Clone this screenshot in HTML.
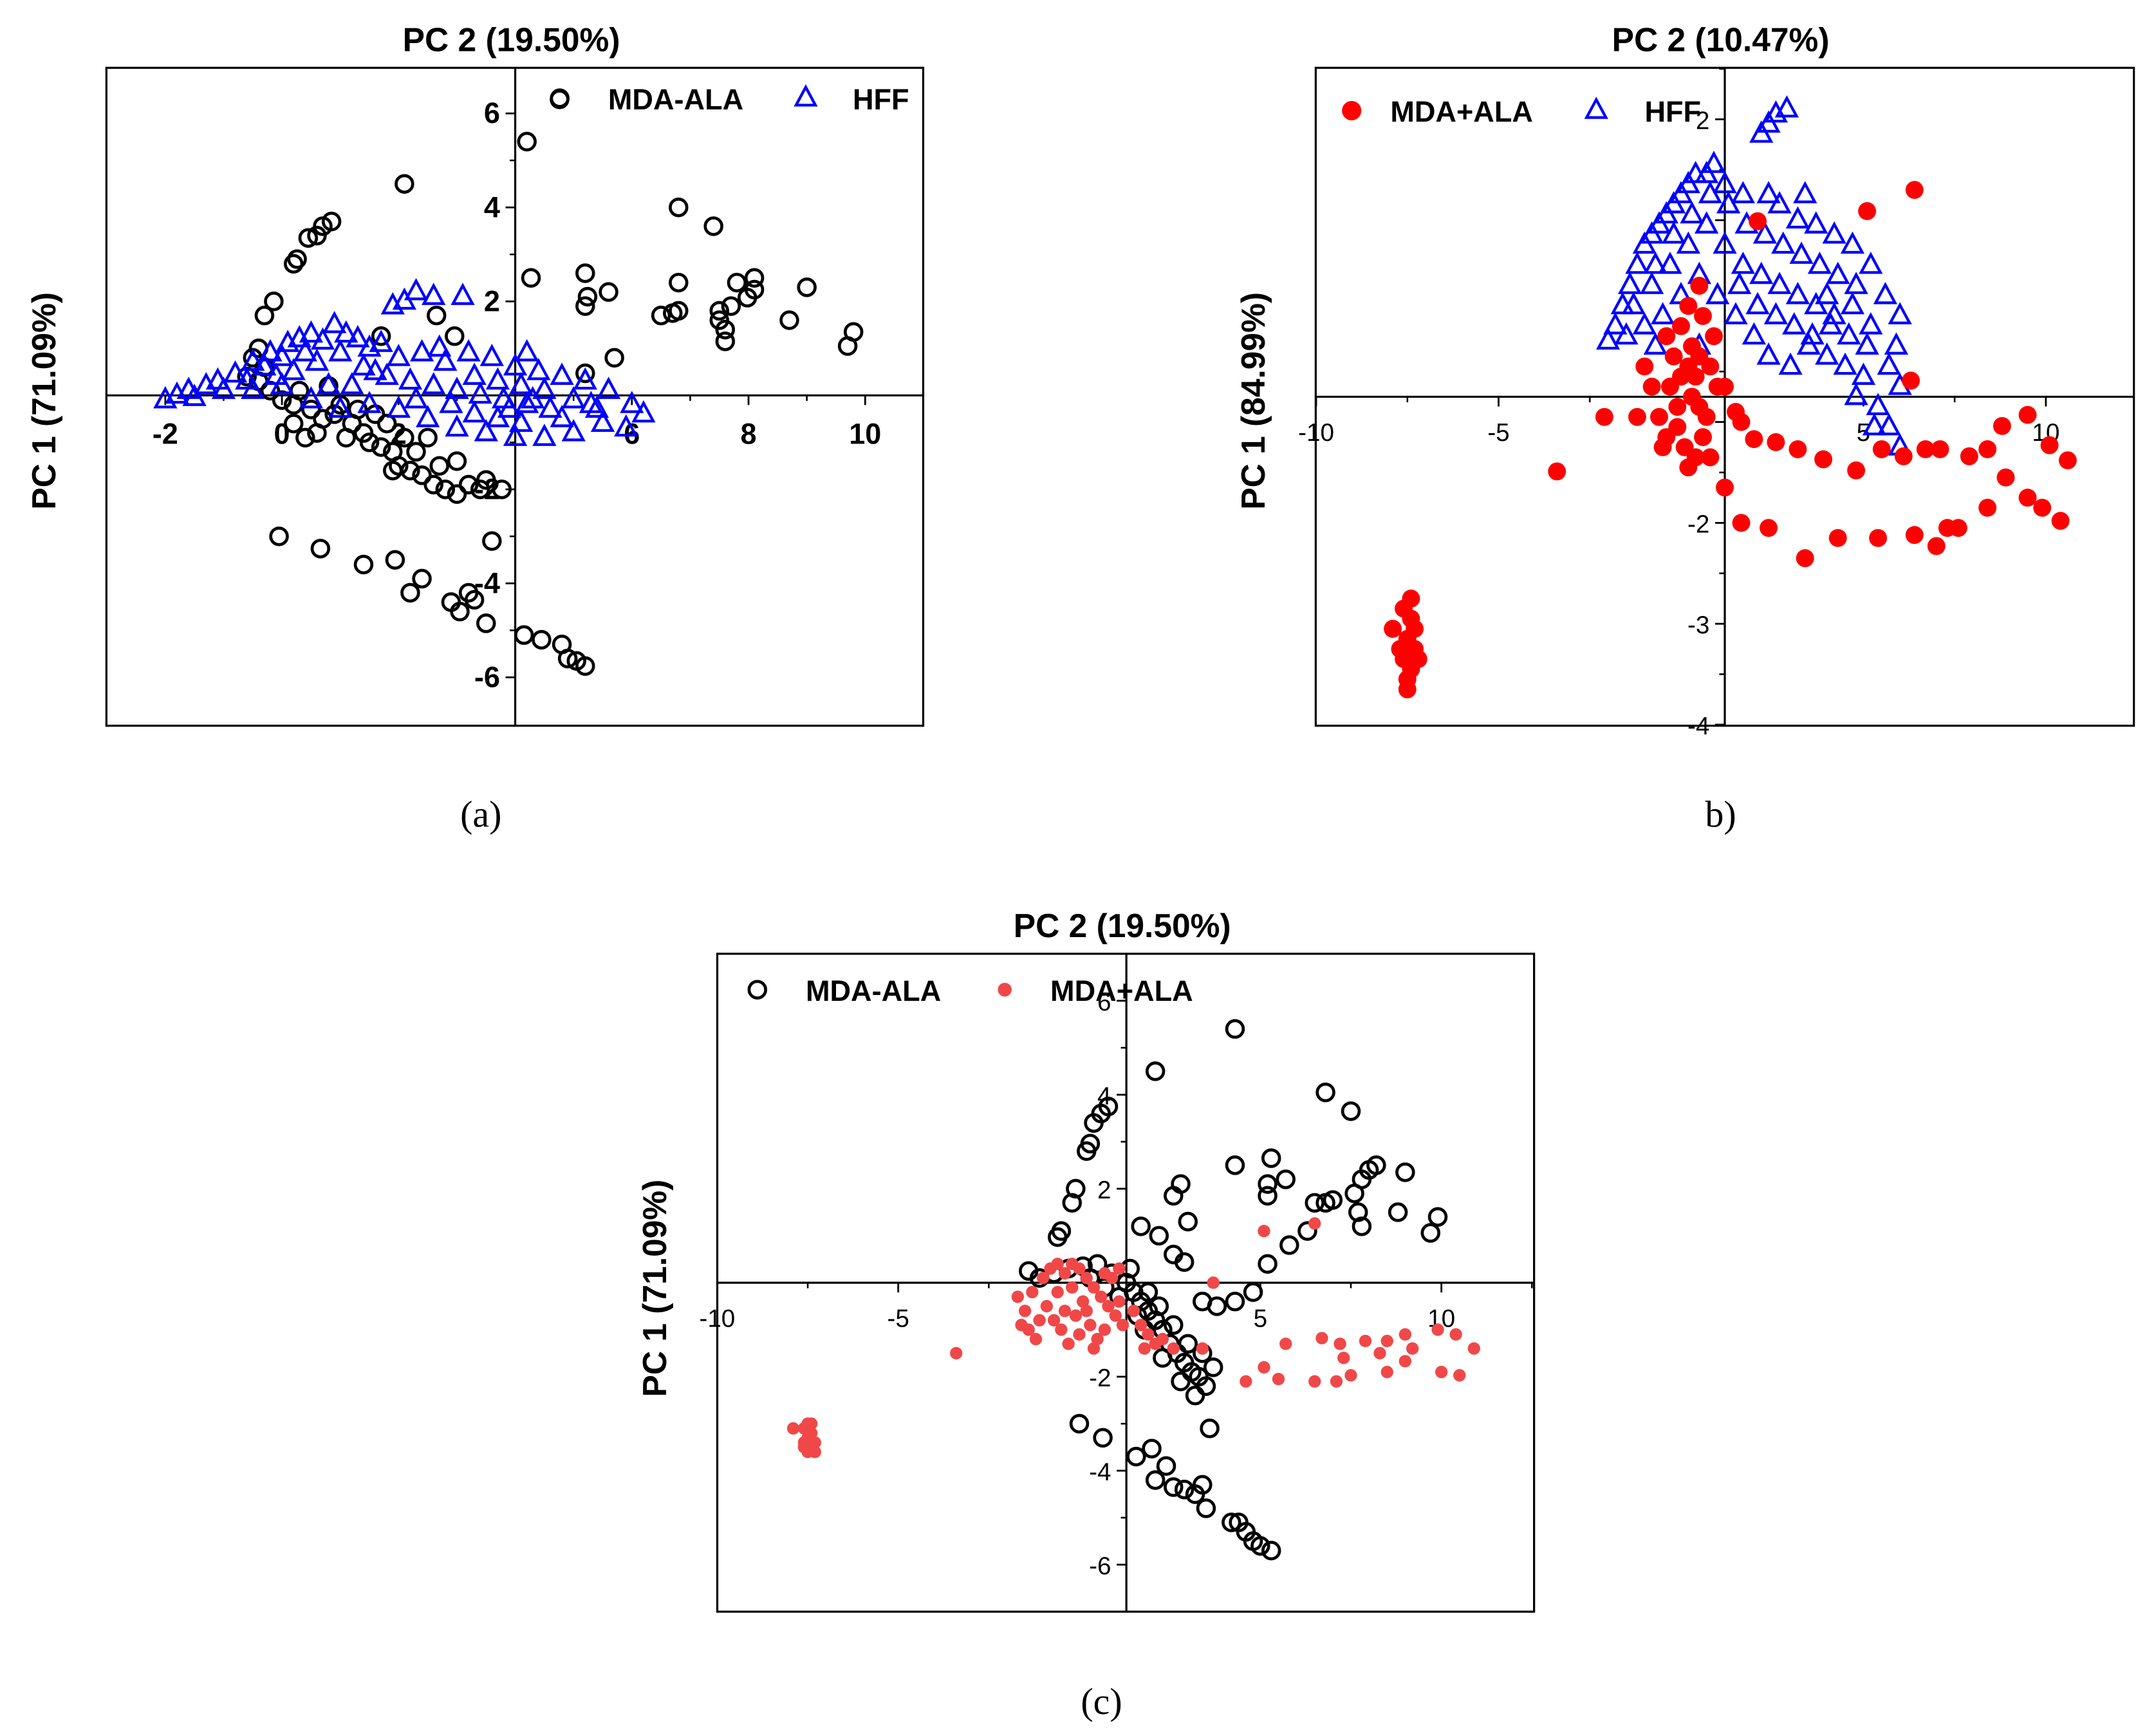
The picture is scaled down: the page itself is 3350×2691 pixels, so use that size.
<!DOCTYPE html>
<html><head><meta charset="utf-8">
<style>
html,body{margin:0;padding:0;background:#fff}
svg{display:block}
text{font-family:"Liberation Sans",sans-serif}
</style></head>
<body>
<svg id="fig" width="3350" height="2691" viewBox="0 0 1560 1253" xmlns="http://www.w3.org/2000/svg">
<g id="pa">
<text x="370" y="37" text-anchor="middle" font-size="24" font-weight="bold">PC 2 (19.50%)</text>
<text transform="translate(40,290) rotate(-90)" text-anchor="middle" font-size="24" font-weight="bold">PC 1 (71.09%)</text>
<rect x="77" y="49" width="591" height="476" fill="none" stroke="#000" stroke-width="1.5"/>
<circle cx="405" cy="71" r="6" fill="none" stroke="#000" stroke-width="2.2"/>
<text x="440" y="79" font-size="21" font-weight="bold">MDA-ALA</text>
<path d="M583,63 L590,76 L576,76 Z" fill="none" stroke="#00f" stroke-width="2"/>
<text x="617" y="79" font-size="21" font-weight="bold">HFF</text>
<text x="348" y="598" text-anchor="middle" font-size="27" style="font-family:'Liberation Serif',serif">(a)</text>
</g>
<g id="pb">
<text x="1245" y="37" text-anchor="middle" font-size="24" font-weight="bold">PC 2 (10.47%)</text>
<text transform="translate(915,290) rotate(-90)" text-anchor="middle" font-size="24" font-weight="bold">PC 1 (84.99%)</text>
<rect x="952" y="49" width="592" height="476" fill="none" stroke="#000" stroke-width="1.5"/>
<circle cx="978" cy="80" r="7" fill="#f00"/>
<text x="1006" y="88" font-size="21" font-weight="bold">MDA+ALA</text>
<path d="M1155,72 L1162,85 L1148,85 Z" fill="none" stroke="#00f" stroke-width="2"/>
<text x="1190" y="88" font-size="21" font-weight="bold">HFF</text>
<text x="1245" y="598" text-anchor="middle" font-size="27" style="font-family:'Liberation Serif',serif">b)</text>
</g>
<g id="pc">
<text x="812" y="678" text-anchor="middle" font-size="24" font-weight="bold">PC 2 (19.50%)</text>
<text transform="translate(482,932) rotate(-90)" text-anchor="middle" font-size="24" font-weight="bold">PC 1 (71.09%)</text>
<rect x="519" y="690" width="591" height="476" fill="none" stroke="#000" stroke-width="1.5"/>
<circle cx="548" cy="716" r="6" fill="none" stroke="#000" stroke-width="2.2"/>
<text x="583" y="724" font-size="21" font-weight="bold">MDA-ALA</text>
<circle cx="727" cy="716" r="5" fill="#f04848"/>
<text x="760" y="724" font-size="21" font-weight="bold">MDA+ALA</text>
<text x="797" y="1240" text-anchor="middle" font-size="27" style="font-family:'Liberation Serif',serif">(c)</text>
</g>
</svg>
<script>
const NS="http://www.w3.org/2000/svg";
// Panel a data
const aTicksX=[-2,0,2,4,6,8,10];
const aTicksXLabels=["-2","0","2","","6","8","10"];
const aTicksY=[-6,-4,-2,2,4,6];
const aTicksYLabels=["-6","-4","-2","2","4","6"];
const aMdaAla=[[4.76,6.3],[4.2,5.4],[2.1,4.5],[0.85,3.7],[0.7,3.6],[0.6,3.4],[0.45,3.35],[0.26,2.9],[0.2,2.8],[-0.14,2.0],[-0.3,1.7],[4.27,2.5],[5.2,2.6],[5.24,2.1],[5.2,1.9],[5.6,2.2],[6.8,4.0],[7.4,3.6],[6.8,2.4],[6.5,1.7],[6.7,1.75],[6.8,1.8],[7.5,1.8],[7.6,1.4],[7.6,1.15],[7.5,1.6],[7.8,2.4],[8.1,2.5],[8.1,2.25],[7.98,2.08],[7.7,1.9],[8.7,1.6],[9.0,2.3],[9.7,1.05],[9.8,1.35],[5.7,0.8],[5.2,0.47],[2.96,1.26],[2.65,1.7],[1.7,1.26],[-0.05,-3.0],[0.66,-3.26],[1.4,-3.6],[1.94,-3.5],[2.2,-4.2],[2.4,-3.9],[2.9,-4.4],[3.05,-4.6],[3.2,-4.2],[3.3,-4.35],[3.5,-4.85],[3.6,-3.1],[3.77,-2.0],[4.15,-5.1],[4.45,-5.2],[4.8,-5.3],[4.9,-5.6],[5.05,-5.65],[5.2,-5.76],
[-0.6,0.4],[-0.4,0.3],[-0.2,0.1],[0,-0.1],[0.2,-0.2],[0.3,0.1],[0.5,-0.3],[0.7,-0.5],[0.9,-0.4],[1.0,-0.2],[1.2,-0.6],[1.4,-0.8],[1.5,-1.0],[1.7,-1.1],[1.9,-1.2],[2.0,-1.5],[2.2,-1.6],[2.4,-1.7],[2.6,-1.9],[2.8,-2.0],[3.0,-2.1],[3.2,-1.9],[3.4,-2.0],[3.5,-1.8],[1.1,-0.9],[0.6,-0.8],[0.2,-0.6],[-0.3,0.6],[-0.5,0.8],[-0.4,1.0],[1.3,-0.3],[1.8,-0.6],[2.3,-1.2],[2.1,-0.9],[2.7,-1.5],[3.0,-1.4],[0.8,0.2],[1.6,-0.4],[2.5,-0.9],[0.4,-0.9],[1.9,-1.6]];
const aHff=[[-2,-0.1],[-1.8,0],[-1.6,0.1],[-1.5,-0.05],[-1.3,0.2],[-1.1,0.3],[-1,0.1],[-0.8,0.45],[-0.6,0.3],[-0.5,0.7],[-0.3,0.6],[-0.2,0.9],[0,0.8],[0.1,1.1],[0.3,1.2],[0.5,1.3],[0.7,1.15],[0.9,1.5],[1.1,1.3],[1.3,1.2],[1.5,1.0],[1.7,1.1],[1.9,1.9],[2.1,2.0],[2.3,2.2],[2.6,2.1],[3.1,2.1],[2.0,0.8],[2.4,0.9],[2.8,0.7],[3.2,0.9],[3.6,0.8],[4.0,0.6],[4.4,0.5],[4.8,0.4],[5.2,0.3],[5.6,0.1],[6.0,-0.2],[6.2,-0.4],[5.9,-0.7],[5.5,-0.6],[5.0,-0.8],[4.5,-0.9],[4.0,-0.9],[3.5,-0.8],[3.0,-0.7],[2.5,-0.5],[2,-0.3],[1.5,-0.2],[1,-0.3],[0.5,-0.1],[0,0.2],[-0.5,0.1],[0.2,0.5],[0.6,0.7],[1,0.9],[1.4,0.6],[1.8,0.4],[2.2,0.3],[2.6,0.2],[3,0.1],[3.4,0],[3.8,-0.1],[4.2,-0.2],[4.6,-0.3],[5,-0.1],[5.4,-0.3],[3.3,0.4],[3.7,0.3],[4.1,0.2],[4.5,0.1],[2.9,-0.2],[3.3,-0.4],[3.7,-0.5],[4.1,-0.6],[4.3,-0.1],[1.2,0.2],[0.8,0.2],[2.3,-0.1],[1.6,0.5],[-0.1,0.4],[0.4,0.9],[2.7,1.0],[4.2,0.9],[3.9,-0.3],[5.3,-0.2],[4.8,-0.5]];
// Panel b data
const bTicksX=[-10,-5,5,10];
const bTicksXLabels=["-10","-5","5","10"];
const bTicksY=[-4,-3,-2,-1,1,2];
const bTicksYLabels=["-4","-3","-2","","","2"];
const bMdaAla=[[-8.8,-2.1],[-8.6,-2.2],[-8.7,-2.4],[-8.5,-2.3],[-8.8,-2.6],[-8.6,-2.7],[-8.9,-2.5],[-8.5,-2.5],[-8.7,-2.8],[-8.6,-2.0],[-9.1,-2.3],[-8.4,-2.6],[-8.7,-2.9],
[-2.2,0.3],[-2.0,0.1],[-1.8,-0.2],[-1.6,-0.4],[-1.4,0.4],[-1.2,0.7],[-1.0,0.9],[-0.9,0.5],[-0.8,0.2],[-0.7,-0.1],[-0.6,-0.4],[-0.5,-0.2],[-1.1,-0.5],[-1.3,-0.1],[-1.5,0.1],[-0.4,0.3],[-0.3,0.6],[-0.2,0.1],[-1.0,-0.7],[-0.8,-0.6],[-1.7,-0.5],[-0.6,0.8],[-0.9,0.0],[-1.2,0.2],[-0.4,-0.6],[0,0.1],[-2.4,-0.2],[-0.7,1.1],[-1.6,0.6],[-3.3,-0.2],[-4.6,-0.74],[-1.3,-0.3],[-1.0,0.3],[-0.7,0.4],
[0.45,-1.25],[1.2,-1.3],[2.2,-1.6],[3.1,-1.4],[4.2,-1.4],[5.2,-1.37],[5.8,-1.48],[6.1,-1.3],[6.4,-1.3],[7.2,-1.1],[7.7,-0.8],[8.3,-1.0],[8.7,-1.1],[9.2,-1.23],[8.9,-0.48],[9.4,-0.63],[8.3,-0.18],[7.6,-0.29],[7.2,-0.52],[6.7,-0.59],[5.9,-0.52],[5.5,-0.52],[4.9,-0.59],[4.3,-0.52],[3.6,-0.73],[2.7,-0.62],[2.0,-0.52],[1.4,-0.45],[0.8,-0.42],[0.45,-0.25],[0.3,-0.15],[3.9,1.84],[5.2,2.05],[0.9,1.74],[5.1,0.16],[0,-0.9]];
const bHff=[[-3.2,0.55],[-3.0,0.7],[-2.8,0.9],[-2.6,1.1],[-2.4,1.3],[-2.2,1.5],[-2.0,1.6],[-1.8,1.7],[-1.6,1.8],[-1.4,1.9],[-1.2,2.0],[-1.0,2.1],[-0.8,2.2],[-0.5,2.2],[-0.3,2.3],[0,2.1],[1.0,2.6],[1.2,2.7],[1.4,2.8],[1.7,2.85],[2,1.75],[2.5,1.7],[3,1.6],[3.5,1.5],[4,1.3],[4.4,1.0],[4.8,0.8],[4.7,0.5],[4.5,0.3],[4.8,0.1],[4.2,-0.1],[4.5,-0.3],[4.8,-0.5],[3.8,0.2],[3.3,0.3],[2.8,0.4],[2.3,0.5],[1.8,0.3],[1.2,0.4],[0.8,0.6],[0.3,0.8],[-0.2,1.0],[-0.7,1.2],[-1.2,1.0],[-1.7,0.8],[-2.2,0.7],[-2.7,0.6],[-2.5,0.9],[-2,1.1],[-1.5,1.3],[-1,1.5],[-0.5,1.7],[0,1.5],[0.5,1.3],[1,1.2],[1.5,1.1],[2,1.0],[2.5,0.9],[3,0.8],[3.5,0.9],[4,0.7],[3.6,1.1],[3.1,1.2],[2.6,1.3],[2.1,1.4],[1.6,1.5],[1.1,1.6],[0.6,1.7],[0.1,1.9],[-0.4,2.0],[-0.9,1.8],[-1.4,1.6],[-1.9,1.3],[0.4,1.1],[0.9,0.9],[1.4,0.8],[1.9,0.7],[2.4,0.6],[2.9,0.7],[3.4,0.6],[3.9,0.5],[-0.7,0.5],[-1.9,0.5],[1.5,1.9],[2.2,2.0],[1.2,2.0],[0.5,2.0],[3.6,0.0],[4.1,-0.3],[2.8,1.0]];
// Panel c data
const cTicksX=[-10,-5,5,10];
const cTicksXLabels=["-10","-5","5","10"];
const cTicksY=[-6,-4,-2,2,4,6];
const cTicksYLabels=["-6","-4","-2","2","4","6"];
const cMdaAla=[[3,5.4],[0.8,4.5],[-0.5,3.75],[-0.7,3.6],[-0.9,3.4],[-1.0,2.96],[-1.1,2.8],[-1.4,2.0],[-1.5,1.7],[-1.8,1.1],[-1.9,0.97],[5.5,4.05],[6.2,3.65],[4,2.65],[3,2.5],[3.9,2.1],[3.9,1.85],[4.4,2.2],[5,1.1],[4.5,0.8],[3.9,0.4],[3.5,-0.2],[3,-0.4],[2.5,-0.5],[2.1,-0.4],[1.6,0.44],[1.3,0.6],[1.7,1.3],[1.3,1.85],[1.5,2.1],[0.4,1.2],[0.9,1.0],[5.2,1.7],[5.5,1.7],[5.7,1.76],[6.3,1.9],[6.4,1.5],[6.5,1.2],[6.7,2.4],[6.9,2.5],[6.5,2.2],[7.7,2.35],[7.5,1.5],[8.6,1.4],[8.4,1.06],[0.27,-3.7],[0.7,-3.53],[0.8,-4.2],[1.1,-3.9],[1.3,-4.35],[1.6,-4.4],[1.9,-4.5],[2.1,-4.3],[2.2,-4.8],[2.3,-3.1],[2.9,-5.1],[3.1,-5.1],[3.3,-5.3],[3.5,-5.5],[3.7,-5.6],[4,-5.7],[-1.3,-3],[-0.65,-3.3],
[-2.7,0.25],[-2.4,0.1],[-2.0,0.2],[-1.6,0.3],[-1.2,0.35],[-0.8,0.4],[-0.4,0.2],[0,0],[0.2,-0.2],[0.4,-0.4],[0.6,-0.6],[0.8,-0.8],[1.0,-1.0],[1.2,-1.3],[1.4,-1.5],[1.6,-1.7],[1.8,-1.9],[2.0,-2.0],[2.2,-2.2],[1.5,-2.1],[1.9,-2.4],[2.4,-1.8],[1.0,-1.6],[0.5,-1.0],[0.3,-0.7],[0.9,-0.5],[1.3,-0.9],[-0.2,-0.3],[-1.0,0.1],[-0.6,-0.1],[0.1,0.3],[0.6,-0.2],[1.7,-1.3],[2.1,-1.5]];
const cMdaPlusAla=[[-8.9,-3.1],[-8.8,-3.3],[-8.7,-3.2],[-8.9,-3.5],[-8.8,-3.6],[-8.6,-3.4],[-9.2,-3.1],[-8.7,-3.0],[-8.9,-3.4],[-8.6,-3.6],[-8.8,-3.0],
[-3,-0.3],[-2.8,-0.6],[-2.7,-1.0],[-2.5,-1.2],[-2.6,-0.2],[-2.3,0.1],[-2.1,0.3],[-1.9,0.4],[-1.7,0.2],[-1.5,0.4],[-1.3,0.3],[-1.1,0.1],[-0.9,-0.1],[-0.7,-0.3],[-0.5,-0.5],[-0.3,-0.7],[-0.1,-0.9],[-2.2,-0.5],[-2.0,-0.8],[-1.8,-1.0],[-1.6,-1.3],[-1.4,-0.7],[-1.2,-0.4],[-1.0,-0.9],[-0.8,-1.2],[-0.6,-1.0],[-1.9,-0.2],[-1.5,-0.1],[-1.1,-0.6],[-0.4,0.1],[-0.2,0.3],[-2.4,-0.8],[-1.7,-0.6],[-1.3,-1.1],[-0.9,-1.4],[-0.6,0.2],[-2.9,-0.9],[-0.2,-0.4],[0.2,-0.6],[0.4,-0.9],[0.6,-1.1],[0.8,-1.3],[1.0,-1.2],[1.3,-1.4],[0.5,-1.4],[-4.7,-1.5],
[2.1,-1.4],[3.3,-2.1],[4.2,-2.05],[5.2,-2.1],[5.8,-2.1],[6.2,-1.97],[7.2,-1.9],[7.7,-1.67],[7.9,-1.4],[8.7,-1.9],[9.2,-1.97],[9.6,-1.4],[9.1,-1.1],[8.6,-1.0],[7.7,-1.1],[7.2,-1.24],[6.6,-1.24],[5.9,-1.3],[5.4,-1.18],[4.4,-1.3],[3.8,-1.8],[3.8,1.1],[5.2,1.26],[2.4,0],[6.0,-1.6],[7.0,-1.5]];

function mk(parent,tag,attrs){const e=document.createElementNS(NS,tag);for(const k in attrs)e.setAttribute(k,attrs[k]);parent.appendChild(e);return e;}
function scale(d0,p0,d1,p1){return v=>p0+(v-d0)*(p1-p0)/(d1-d0);}

// axes cross at (crossX, crossY) in data coords; tick value t drawn at data position t - offX / t - offY
function axes(g,cfg,name){
  const ox=cfg.sx(cfg.crossX), oy=cfg.sy(cfg.crossY);
  const xl=mk(g,'line',{x1:cfg.x0,x2:cfg.x1,y1:oy,y2:oy,stroke:'#000','stroke-width':1.5});
  
  
  const yl=mk(g,'line',{x1:ox,x2:ox,y1:cfg.y0,y2:cfg.y1,stroke:'#000','stroke-width':1.5});
  
  
  cfg.tx.forEach((v,i)=>{
    const x=cfg.sx(v-cfg.offX);
    mk(g,'line',{x1:x,x2:x,y1:oy,y2:oy+7,stroke:'#000','stroke-width':1.3});
    const mx=cfg.sx(v+cfg.minorX-cfg.offX);
    if(mx>cfg.x0&&mx<cfg.x1) mk(g,'line',{x1:mx,x2:mx,y1:oy,y2:oy+4,stroke:'#000','stroke-width':1.2});
    const t=mk(g,'text',{x:x,y:oy+cfg.xlOff,'text-anchor':'middle','font-size':cfg.fs,'font-weight':cfg.fw});
    t.textContent=cfg.txl[i];
    
    
  });
  cfg.ty.forEach((v,i)=>{
    const y=cfg.sy(v-cfg.offY);
    mk(g,'line',{x1:ox-7,x2:ox,y1:y,y2:y,stroke:'#000','stroke-width':1.3});
    const my=cfg.sy(v+cfg.minorY-cfg.offY);
    if(my>cfg.y0&&my<cfg.y1) mk(g,'line',{x1:ox-4,x2:ox,y1:my,y2:my,stroke:'#000','stroke-width':1.2});
    const t=mk(g,'text',{x:ox-11,y:y+7,'text-anchor':'end','font-size':cfg.fs,'font-weight':cfg.fw});
    t.textContent=cfg.tyl[i];
    
    
  });
}
function circles(g,data,sx,sy,name,r,fill,stroke){
  data.forEach(p=>{
    const c=mk(g,'circle',{cx:sx(p[0]),cy:sy(p[1]),r:r,fill:fill,stroke:stroke,'stroke-width':stroke==='none'?0:2.2});
    
    
  });
}
function tris(g,data,sx,sy,name){
  data.forEach(p=>{
    const x=sx(p[0]),y=sy(p[1]);
    const t=mk(g,'path',{d:`M${x},${y-8} L${x+7},${y+5} L${x-7},${y+5} Z`,fill:'none',stroke:'#0000ff','stroke-width':2});
    
    
  });
}
// panel a
const ga=document.getElementById('pa');
const asx=scale(0,204,10,626), asy=scale(0,286,-6,490);
axes(ga,{sx:asx,sy:asy,crossX:4,crossY:0,offX:0,offY:0,x0:77,x1:668,y0:49,y1:525,tx:aTicksX,txl:aTicksXLabels,ty:aTicksY,tyl:aTicksYLabels,minorX:1,minorY:1,xlOff:35,fs:21,fw:'bold'},'panel-a');
circles(ga,aMdaAla,asx,asy,'point-a-mda-ala',6,'none','#000');
tris(ga,aHff,asx,asy,'point-a-hff');
// panel b
const gb=document.getElementById('pb');
const bsx=scale(0,1248,10,1512), bsy=scale(0,287,-1,360);
axes(gb,{sx:bsx,sy:bsy,crossX:0,crossY:0,offX:1.2,offY:-0.75,x0:952,x1:1544,y0:49,y1:525,tx:bTicksX,txl:bTicksXLabels,ty:bTicksY,tyl:bTicksYLabels,minorX:2.5,minorY:0.5,xlOff:32,fs:18,fw:'normal'},'panel-b');
tris(gb,bHff,bsx,bsy,'point-b-hff');
circles(gb,bMdaAla,bsx,bsy,'point-b-mda-ala',6.5,'#f00','none');
// panel c
const gc=document.getElementById('pc');
const csx=scale(0,815,10,1077), csy=scale(0,928,-6,1132);
axes(gc,{sx:csx,sy:csy,crossX:0,crossY:0,offX:1.3,offY:0,x0:519,x1:1110,y0:690,y1:1166,tx:cTicksX,txl:cTicksXLabels,ty:cTicksY,tyl:cTicksYLabels,minorX:2.5,minorY:1,xlOff:32,fs:18,fw:'normal'},'panel-c');
circles(gc,cMdaAla,csx,csy,'point-c-mda-ala',6,'none','#000');
circles(gc,cMdaPlusAla,csx,csy,'point-c-mda-plus-ala',4.5,'#f04848','none');
</script>
</body></html>
